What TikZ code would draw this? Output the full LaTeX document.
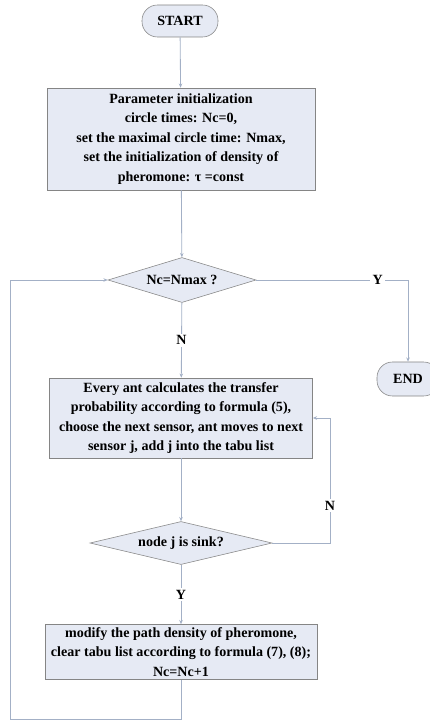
\documentclass[tikz,border=0pt]{standalone}
\usepackage{fontspec}
\setmainfont{Liberation Serif}
\usepackage{xcolor}
\usetikzlibrary{arrows.meta,shapes.geometric}
\definecolor{boxfill}{HTML}{E6EAF4}
\definecolor{boxline}{HTML}{858585}
\definecolor{flowline}{HTML}{A3B0C6}

\begin{document}
\begin{tikzpicture}[x=0.025cm,y=-0.025cm,
  every node/.style={font=\bfseries\fontsize{10}{13.8}\selectfont},
  startstop/.style={draw=boxline,fill=boxfill,rounded corners=11pt,inner sep=0pt},
  procbox/.style={draw=boxline,fill=boxfill,align=center,inner sep=0pt},
  decision/.style={draw=boxline,fill=boxfill,shape=diamond,aspect=4,inner sep=0pt},
  conn/.style={draw=flowline,line width=0.6pt,-{Stealth[length=3pt,width=2.5pt]}},
  yn/.style={fill=white,inner sep=1.5pt}]
\useasboundingbox (0,0) rectangle (429,720);

% start / end
\node[startstop,minimum width=1.9cm,minimum height=0.8cm] (start) at (180,21) {START};
\node[startstop,minimum width=1.55cm,minimum height=0.85cm] (end) at (408,379) {END};

% initialization
\node[procbox,minimum width=6.7cm,minimum height=2.55cm] (init) at (181,139) {
Parameter initialization\\
circle times: Nc=0,\\
set the maximal circle time: Nmax,\\
set the initialization of density of\\
pheromone: τ =const};

\node[decision,minimum width=3.7cm,minimum height=1.125cm] (maxq) at (182,280) {Nc=Nmax ?};

% ants walk
\node[procbox,minimum width=6.575cm,minimum height=2cm] (walk) at (181,418) {
Every ant calculates the transfer\\
probability according to formula (5),\\
choose the next sensor, ant moves to next\\
sensor j, add j into the tabu list};

\node[decision,minimum width=4.55cm,minimum height=1.075cm] (sink) at (181,543) {node j is sink?};

% pheromone update
\node[procbox,minimum width=6.8cm,minimum height=1.375cm] (update) at (181,652) {
modify the path density of pheromone,\\
clear tabu list according to formula (7), (8);\\
Nc=Nc+1};

\coordinate (yturn) at (408,280);
\coordinate (nturn) at (330,543);
\coordinate (nback) at (330,418);
\coordinate (loopa) at (181,719);
\coordinate (loopb) at (10,719);
\coordinate (loopc) at (10,280);

\draw[conn] (start) -- (init);
\draw[conn] (init) -- (maxq);
\draw[conn] (maxq) -- node[yn,pos=0.5] {N} (walk);
\draw[conn] (maxq.east) -- (yturn) node[yn,pos=0.8] {Y} -- (end);
\draw[conn] (walk) -- (sink);
\draw[conn] (sink.east) -- (nturn) -- node[yn,pos=0.3] {N} (nback) -- (walk.east);
\draw[conn] (sink) -- node[yn,pos=0.5] {Y} (update);
\draw[conn] (update) -- (loopa) -- (loopb) -- (loopc) -- (maxq.west);
\end{tikzpicture}
\end{document}
